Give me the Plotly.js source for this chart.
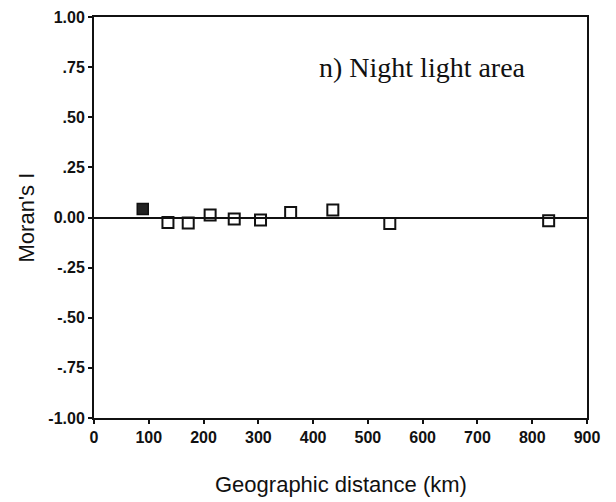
<!DOCTYPE html>
<html>
<head>
<meta charset="utf-8">
<script src="https://cdn.plot.ly/plotly-3.0.1.min.js"></script>
<style>html,body{margin:0;padding:0;background:#fff;}#chart{width:616px;height:502px;}</style>
</head>
<body>
<div id="chart"></div>
<script>
// Significant (filled) point
const sigDistance = [89];
const sigMoran = [0.042];
// Non-significant (open) points
const openDistance = [135, 172, 212, 256, 304, 359, 436, 540, 830];
const openMoran = [-0.025, -0.028, 0.012, -0.008, -0.013, 0.025, 0.037, -0.030, -0.016];

const xTickVals = [0, 100, 200, 300, 400, 500, 600, 700, 800, 900];
const xTickText = ['0', '100', '200', '300', '400', '500', '600', '700', '800', '900'];
const yTickVals = [1, 0.75, 0.5, 0.25, 0, -0.25, -0.5, -0.75, -1];
const yTickText = ['1.00', '.75', '.50', '.25', '0.00', '-.25', '-.50', '-.75', '-1.00'];

const panelLabel = 'n) Night light area';
const xTitle = 'Geographic distance (km)';
const yTitle = "Moran's I";

const traces = [
  {
    x: openDistance, y: openMoran, type: 'scatter', mode: 'markers',
    marker: {symbol: 'square-open', size: 11, color: '#111', line: {width: 2, color: '#111'}},
    hoverinfo: 'x+y', showlegend: false
  },
  {
    x: sigDistance, y: sigMoran, type: 'scatter', mode: 'markers',
    marker: {symbol: 'square', size: 11, color: '#222', line: {width: 1.5, color: '#111'}},
    hoverinfo: 'x+y', showlegend: false
  }
];

const tickFont = {family: 'Liberation Sans, Arial, sans-serif', size: 16, color: '#111', weight: 'bold'};

const layout = {
  width: 616, height: 502,
  margin: {l: 94, r: 29, t: 17, b: 84, pad: 0},
  paper_bgcolor: '#fff', plot_bgcolor: '#fff',
  showlegend: false,
  xaxis: {
    range: [0, 900], tickvals: xTickVals, ticktext: xTickText,
    showgrid: false, zeroline: false,
    showline: true, linecolor: '#111', linewidth: 2, mirror: true,
    ticks: 'outside', ticklen: 4, tickwidth: 2, tickcolor: '#111',
    tickfont: tickFont
  },
  yaxis: {
    range: [-1, 1], tickvals: yTickVals, ticktext: yTickText,
    showgrid: false, zeroline: true, zerolinecolor: '#111', zerolinewidth: 2,
    showline: true, linecolor: '#111', linewidth: 2, mirror: true,
    ticks: 'outside', ticklen: 4, tickwidth: 2, tickcolor: '#111',
    tickfont: tickFont
  },
  annotations: [
    {
      text: panelLabel, xref: 'paper', yref: 'paper',
      x: 0.667, y: 0.875, xanchor: 'center', yanchor: 'middle', showarrow: false,
      font: {family: 'Liberation Serif, Times New Roman, serif', size: 28, color: '#111'}
    },
    {
      text: xTitle, xref: 'paper', yref: 'paper',
      x: 0.5, y: -0.167, xanchor: 'center', yanchor: 'middle', showarrow: false,
      font: {family: 'Liberation Sans, Arial, sans-serif', size: 22, color: '#111'}
    },
    {
      text: yTitle, xref: 'paper', yref: 'paper',
      x: -0.136, y: 0.5, xanchor: 'center', yanchor: 'middle', showarrow: false, textangle: -90,
      font: {family: 'Liberation Sans, Arial, sans-serif', size: 22, color: '#111'}
    }
  ]
};

Plotly.newPlot('chart', traces, layout, {displayModeBar: false, staticPlot: true});
</script>
</body>
</html>
